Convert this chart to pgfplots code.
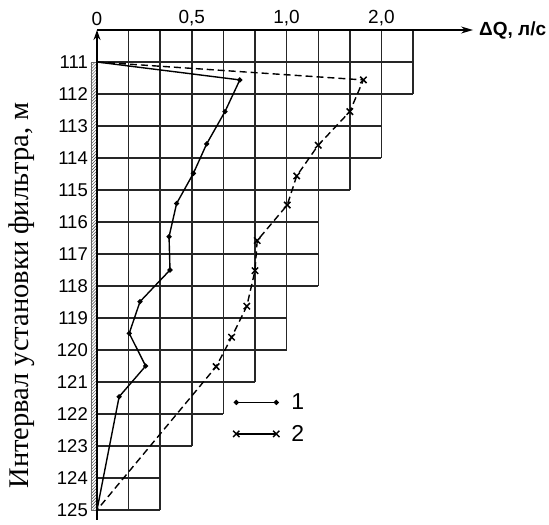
\documentclass[border=0pt]{standalone}
\usepackage{pgfplots}
\pgfplotsset{compat=1.18}
\usepackage{fontspec}
\setmainfont{Liberation Sans}
\newfontfamily\serif{Liberation Serif}
\usetikzlibrary{patterns,arrows.meta}
\begin{document}
\begin{tikzpicture}
\begin{axis}[
  x=31.6bp, y=32bp, y dir=reverse,
  xmin=0, xmax=11.9, ymin=110, ymax=125.3,
  axis line style={draw=none},
  clip=false,
  xtick={0,3,6,9}, xticklabels={0,{0,5},{1,0},{2,0}},
  xticklabel pos=upper,
  ytick={111,112,...,125},
  major tick length=0pt,
  /pgf/number format/assume math mode=true,
  xticklabel style={font=\fontsize{19bp}{21bp}\selectfont, anchor=south, inner sep=0pt, yshift=4bp},
  yticklabel style={font=\fontsize{18.5bp}{20bp}\selectfont, anchor=east, inner sep=0pt, xshift=-9bp},
  legend style={at={(axis cs:4.3,121.3)}, anchor=north west, draw=none, fill=none,
    font=\fontsize{23bp}{25bp}\selectfont, row sep=10bp, inner sep=0pt,
    /tikz/every odd column/.append style={column sep=10bp}},
  legend cell align=left,
  legend image code/.code={\draw[#1,solid,sharp plot] plot coordinates {(0bp,0bp) (40bp,0bp)};},
]
% staircase grid
\begin{scope}[line width=1.4bp, black!85]
\draw (axis cs:0,111) -- (axis cs:10,111);
\draw (axis cs:0,112) -- (axis cs:10,112);
\draw (axis cs:0,113) -- (axis cs:9,113);
\draw (axis cs:0,114) -- (axis cs:9,114);
\draw (axis cs:0,115) -- (axis cs:8,115);
\draw (axis cs:0,116) -- (axis cs:7,116);
\draw (axis cs:0,117) -- (axis cs:7,117);
\draw (axis cs:0,118) -- (axis cs:7,118);
\draw (axis cs:0,119) -- (axis cs:6,119);
\draw (axis cs:0,120) -- (axis cs:6,120);
\draw (axis cs:0,121) -- (axis cs:5,121);
\draw (axis cs:0,122) -- (axis cs:4,122);
\draw (axis cs:0,123) -- (axis cs:3,123);
\draw (axis cs:0,124) -- (axis cs:2,124);
\draw (axis cs:0,125) -- (axis cs:2,125);
\draw (axis cs:1,110) -- (axis cs:1,125);
\draw (axis cs:2,110) -- (axis cs:2,125);
\draw (axis cs:3,110) -- (axis cs:3,123);
\draw (axis cs:4,110) -- (axis cs:4,122);
\draw (axis cs:5,110) -- (axis cs:5,121);
\draw (axis cs:6,110) -- (axis cs:6,120);
\draw (axis cs:7,110) -- (axis cs:7,118);
\draw (axis cs:8,110) -- (axis cs:8,115);
\draw (axis cs:9,110) -- (axis cs:9,114);
\draw (axis cs:10,110) -- (axis cs:10,112);
\end{scope}
% filter strip
\fill[pattern=north east lines, pattern color=black!75] (axis cs:-0.19,111) rectangle (axis cs:0,125);
\draw[black!60, line width=0.4bp] (axis cs:-0.19,111) rectangle (axis cs:0,125);
% axes
\draw[line width=1.5bp, -{Stealth[length=10bp,width=7bp]}] (axis cs:0,125.3) -- (axis cs:0,110);
\draw[line width=1.5bp, -{Stealth[length=12bp,width=7bp]}] (axis cs:0,110) -- (axis cs:11.9,110);
\node[anchor=west, inner sep=0pt, font=\fontsize{19bp}{21bp}\selectfont\bfseries] at (axis cs:11.9,110) [xshift=6bp] {ΔQ, л/с};
\node[rotate=90, inner sep=0pt, font=\fontsize{28.5bp}{30bp}\selectfont\serif] at (axis cs:-2.37,118.3) {Интервал установки фильтра, м};
\coordinate (O) at (axis cs:0,110);
% series 1
\addplot[black, line width=1.4bp, mark=none, forget plot] coordinates {
(0,111) (4.52,111.56) (4.05,112.55) (3.47,113.56) (3.05,114.48) (2.52,115.42)
(2.28,116.46) (2.31,117.5) (1.36,118.49) (1.02,119.48) (1.54,120.5) (0.70,121.46) (0,125)};
\addplot[black, line width=1.4bp, only marks, mark=*, mark size=1.8bp] coordinates {
(4.52,111.56) (4.05,112.55) (3.47,113.56) (3.05,114.48) (2.52,115.42)
(2.28,116.46) (2.31,117.5) (1.36,118.49) (1.02,119.48) (1.54,120.5) (0.70,121.46)};
\addlegendentry{1}
% series 2
\addplot[black, line width=1.4bp, dash pattern=on 7bp off 4bp, mark=none, forget plot] coordinates {
(0,111) (8.43,111.56) (8.0,112.55) (7.0,113.6) (6.32,114.56) (6.02,115.47)
(5.07,116.58) (5.0,117.52) (4.74,118.63) (4.26,119.6) (3.77,120.52) (0,125)};
\addplot[black, line width=1.5bp, only marks, mark=x, mark size=4.5bp, mark options={solid}] coordinates {
(8.43,111.56) (8.0,112.55) (7.0,113.6) (6.32,114.56) (6.02,115.47)
(5.07,116.58) (5.0,117.52) (4.74,118.63) (4.26,119.6) (3.77,120.52)};
\addlegendentry{2}
\end{axis}
\pgfresetboundingbox
\useasboundingbox ([shift={(-97bp,30bp)}]O) rectangle ([shift={(452bp,-495bp)}]O);
\end{tikzpicture}
\end{document}
